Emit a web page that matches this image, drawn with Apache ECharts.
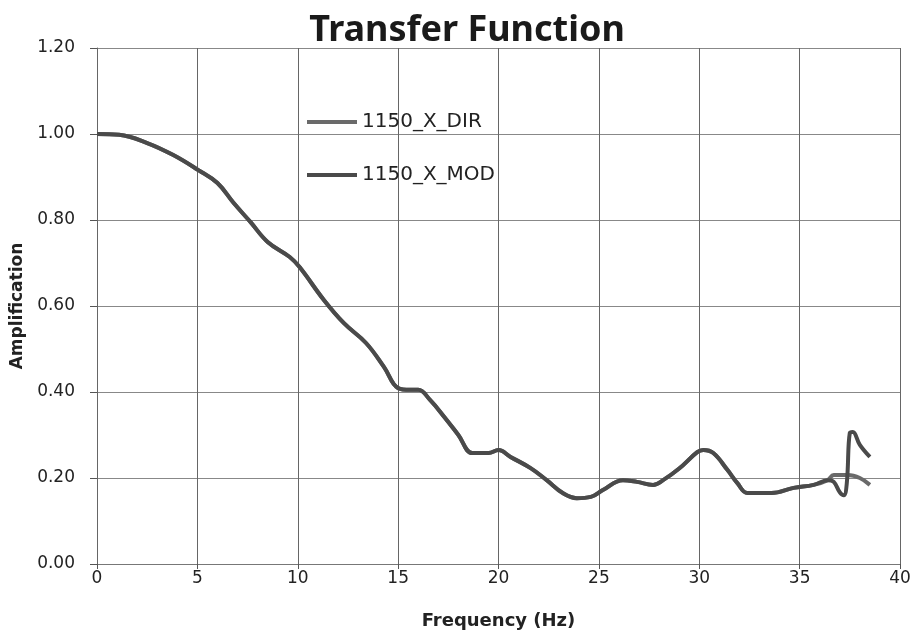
<!DOCTYPE html>
<html><head><meta charset="utf-8">
<script src="https://cdn.jsdelivr.net/npm/echarts@6/dist/echarts.min.js"></script>
<style>html,body{margin:0;padding:0;background:#fff}#c{width:915px;height:635px}</style>
</head><body><div id="c"></div>
<script>
var freqCommon = [0,1.1,2.5,3.8,5.05,6.0,6.8,7.65,8.5,9.6,10.1,11.3,12.3,13.4,14.3,15.0,15.6,16.0,16.6,17.3,18.0,18.7,19.5,20.0,20.6,21.6,22.4,23.2,23.9,24.6,25.2,26.2,26.9,27.7,28.2,29.0,29.9,30.2,30.7,31.4,31.9,32.4,33.6,34.7,35.7,36.4];
var ampCommon = [1.00,0.998,0.979,0.951,0.916,0.886,0.840,0.795,0.749,0.714,0.69,0.614,0.56,0.514,0.458,0.409,0.405,0.405,0.381,0.342,0.30,0.258,0.258,0.265,0.249,0.223,0.195,0.165,0.153,0.156,0.172,0.195,0.191,0.184,0.195,0.222,0.26,0.265,0.258,0.219,0.188,0.165,0.165,0.177,0.184,0.195];
var freqDirTail = [36.7,37.4,38.0,38.5];
var ampDirTail = [0.207,0.207,0.200,0.184];
var freqModTail = [36.7,37.0,37.2,37.35,37.5,37.65,38.0,38.5];
var ampModTail = [0.191,0.167,0.160,0.188,0.305,0.307,0.277,0.249];
var xTicks = [0,5,10,15,20,25,30,35,40];
var yTicks = [0,0.2,0.4,0.6,0.8,1.0,1.2];
var seriesNames = ['1150_X_DIR','1150_X_MOD'];

function pairs(fx, fy){ return fx.map(function(x,i){return [x, fy[i]];}); }
var dirData = pairs(freqCommon.concat(freqDirTail), ampCommon.concat(ampDirTail));
var modData = pairs(freqCommon.concat(freqModTail), ampCommon.concat(ampModTail));

var chart = echarts.init(document.getElementById('c'));
var labFont = 'DejaVu Sans';
chart.setOption({
  animation:false,
  backgroundColor:'#fff',
  title:{text:'Transfer Function',left:462,top:8,textAlign:'center',
    textStyle:{fontFamily:'Noto Sans',fontWeight:'bold',fontSize:36,color:'#1a1a1a'}},
  grid:{left:97,right:15,top:48,bottom:71},
  legend:{orient:'vertical',left:302,top:107,itemGap:33,itemWidth:50,itemHeight:4,
    icon:'rect',
    textStyle:{fontFamily:labFont,fontSize:20,color:'#222'},
    data:seriesNames},
  xAxis:{type:'value',min:xTicks[0],max:xTicks[xTicks.length-1],interval:5,
    name:'Frequency (Hz)',nameLocation:'middle',nameGap:48,
    nameTextStyle:{fontFamily:labFont,fontWeight:'bold',fontSize:18,color:'#222'},
    axisLine:{show:true,lineStyle:{color:'#777',width:1}},
    axisTick:{show:true,length:5,lineStyle:{color:'#555'}},
    axisLabel:{fontFamily:labFont,fontSize:17,color:'#222',margin:6},
    splitLine:{show:true,lineStyle:{color:'#666',width:1}}},
  yAxis:{type:'value',min:yTicks[0],max:yTicks[yTicks.length-1],interval:0.2,
    name:'Amplification',nameLocation:'middle',nameGap:67,
    nameTextStyle:{fontFamily:labFont,fontWeight:'bold',fontSize:17,color:'#222'},
    axisLine:{show:true,lineStyle:{color:'#666',width:1}},
    axisTick:{show:true,length:7,lineStyle:{color:'#555'}},
    axisLabel:{fontFamily:labFont,fontSize:17,color:'#222',margin:22,
      formatter:function(v){return v.toFixed(2);}},
    splitLine:{show:true,lineStyle:{color:'#888',width:1}}},
  series:[
    {name:seriesNames[0],type:'line',data:dirData,showSymbol:false,smooth:0.4,
      color:'#6a6a6a',lineStyle:{width:4,color:'#6a6a6a'}},
    {name:seriesNames[1],type:'line',data:modData,showSymbol:false,smooth:0.4,
      color:'#4a4a4a',lineStyle:{width:4,color:'#4a4a4a'}}
  ]
});
</script></body></html>
